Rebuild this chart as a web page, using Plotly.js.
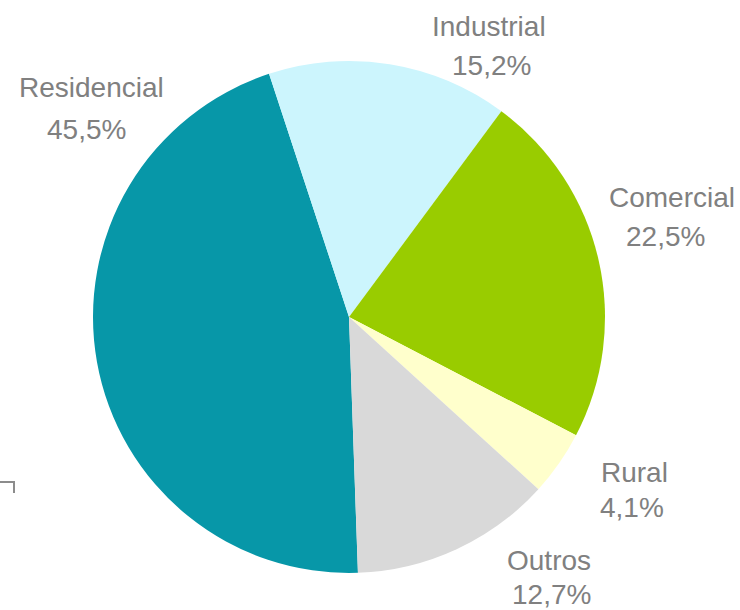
<!DOCTYPE html>
<html>
<head>
<meta charset="utf-8">
<script src="https://cdn.plot.ly/plotly-3.0.1.min.js"></script>
<style>html,body{margin:0;padding:0;background:#fff;}</style>
</head>
<body>
<div id="chart" style="width:740px;height:610px;"></div>
<script>
const categories = ["Residencial", "Industrial", "Comercial", "Rural", "Outros"];
const shares = [45.5, 15.2, 22.5, 4.1, 12.7];
const sliceColors = ["#0797A8", "#CCF5FD", "#99CC00", "#FFFFCC", "#D9D9D9"];
// label line positions in pixels (layout only): [nameX, nameY, valueX, valueY]
const labelPx = [
  [91, 88, 86, 129],
  [489, 26, 491, 65],
  [672, 198, 665, 236],
  [634, 472, 632, 507],
  [549, 560, 551, 594]
];

const W = 740, H = 610;
const cx = 349, cy = 317, r = 256;

const fmt = v => v.toFixed(1).replace('.', ',') + '%';

const trace = {
  type: 'pie',
  labels: categories,
  values: shares,
  sort: false,
  direction: 'clockwise',
  rotation: 178,
  marker: {colors: sliceColors, line: {width: 0}},
  textinfo: 'none',
  hoverinfo: 'none',
  showlegend: false,
  domain: {
    x: [(cx - r) / W, (cx + r) / W],
    y: [(H - cy - r) / H, (H - cy + r) / H]
  }
};

const font = {family: 'Liberation Sans, Arial, sans-serif', size: 28, color: '#808080'};
const annotations = [];
categories.forEach((c, i) => {
  const p = labelPx[i];
  annotations.push({
    xref: 'paper', yref: 'paper', x: p[0] / W, y: 1 - p[1] / H,
    xanchor: 'center', yanchor: 'middle', text: c, showarrow: false, font: font
  });
  annotations.push({
    xref: 'paper', yref: 'paper', x: p[2] / W, y: 1 - p[3] / H,
    xanchor: 'center', yanchor: 'middle', text: fmt(shares[i]), showarrow: false, font: font
  });
});

const layout = {
  width: W, height: H,
  margin: {l: 0, r: 0, t: 0, b: 0},
  paper_bgcolor: '#ffffff',
  showlegend: false,
  annotations: annotations,
  shapes: [{
    type: 'path', xref: 'paper', yref: 'paper',
    path: 'M 0 ' + (1 - 482 / H) + ' L ' + (14 / W) + ' ' + (1 - 482 / H) + ' L ' + (14 / W) + ' ' + (1 - 493 / H),
    line: {color: '#8c8c8c', width: 2}
  }]
};

Plotly.newPlot('chart', [trace], layout, {staticPlot: true, displayModeBar: false});
</script>
</body>
</html>
